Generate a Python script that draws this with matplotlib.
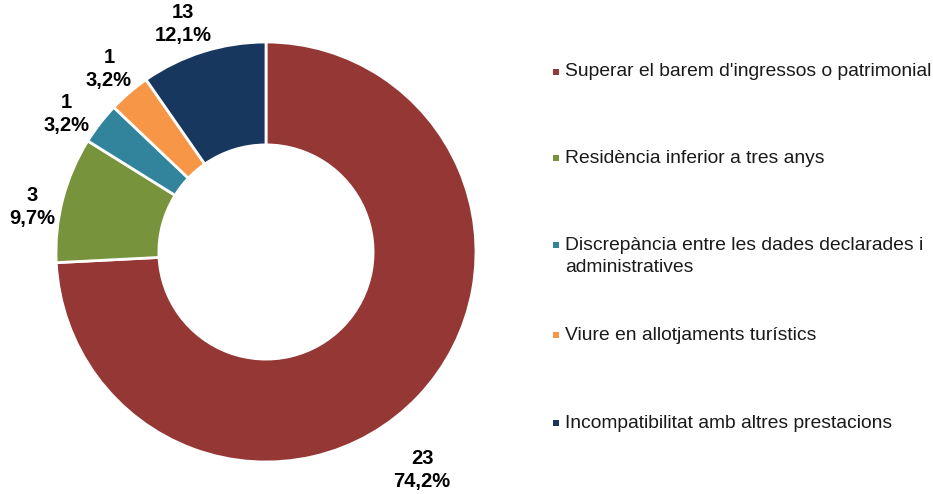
import matplotlib
matplotlib.use("Agg")
import matplotlib.pyplot as plt

plt.rcParams['font.family'] = ['Liberation Sans', 'DejaVu Sans']

# dades
categories = ["Superar el barem d'ingressos o patrimonial",
              "Residència inferior a tres anys",
              "Discrepància entre les dades declarades i\nadministratives",
              "Viure en allotjaments turístics",
              "Incompatibilitat amb altres prestacions"]
values = [23, 3, 1, 1, 3]
count_labels = ['23', '3', '1', '1', '13']
pct_labels = ['74,2%', '9,7%', '3,2%', '3,2%', '12,1%']
colors = ['#953735', '#77933C', '#31849B', '#F79646', '#17375E']

# label centres (data units of the pie axes)
label_pos = [(0.743, -1.038), (-1.114, 0.214), (-0.952, 0.657),
             (-0.748, 0.871), (-0.395, 1.086)]

W, H = 933, 494
fig = plt.figure(figsize=(W / 100, H / 100), dpi=100)

cx, cy, r = 266, 252, 210
ax = fig.add_axes([(cx - r) / W, (H - cy - r) / H, 2 * r / W, 2 * r / H])
wedges, _ = ax.pie(values, colors=colors, startangle=90, counterclock=False,
                   radius=1, wedgeprops=dict(width=0.49, edgecolor='white', linewidth=2))
ax.set_xlim(-1, 1)
ax.set_ylim(-1, 1)
ax.set_aspect('equal')
ax.axis('off')

for (x, y), c, p in zip(label_pos, count_labels, pct_labels):
    ax.text(x, y, c + '\n' + p, ha='center', va='center', fontsize=14.5,
            fontweight='bold', linespacing=1.3, color='black', clip_on=False)

# legend drawn by hand (Excel style)
lax = fig.add_axes([0, 0, 1, 1])
lax.set_xlim(0, W)
lax.set_ylim(H, 0)
lax.axis('off')
leg_y = [72, 158, 245, 335, 423]
for y, lab, col in zip(leg_y, categories, colors):
    lax.scatter([556], [y], marker='s', s=24, color=col, linewidths=0)
    for i, line in enumerate(lab.split('\n')):
        lax.text(565, y + i * 22, line, ha='left', va='center', fontsize=13.9,
                 color='#1a1a1a')

fig.savefig('out.png', dpi=100)
